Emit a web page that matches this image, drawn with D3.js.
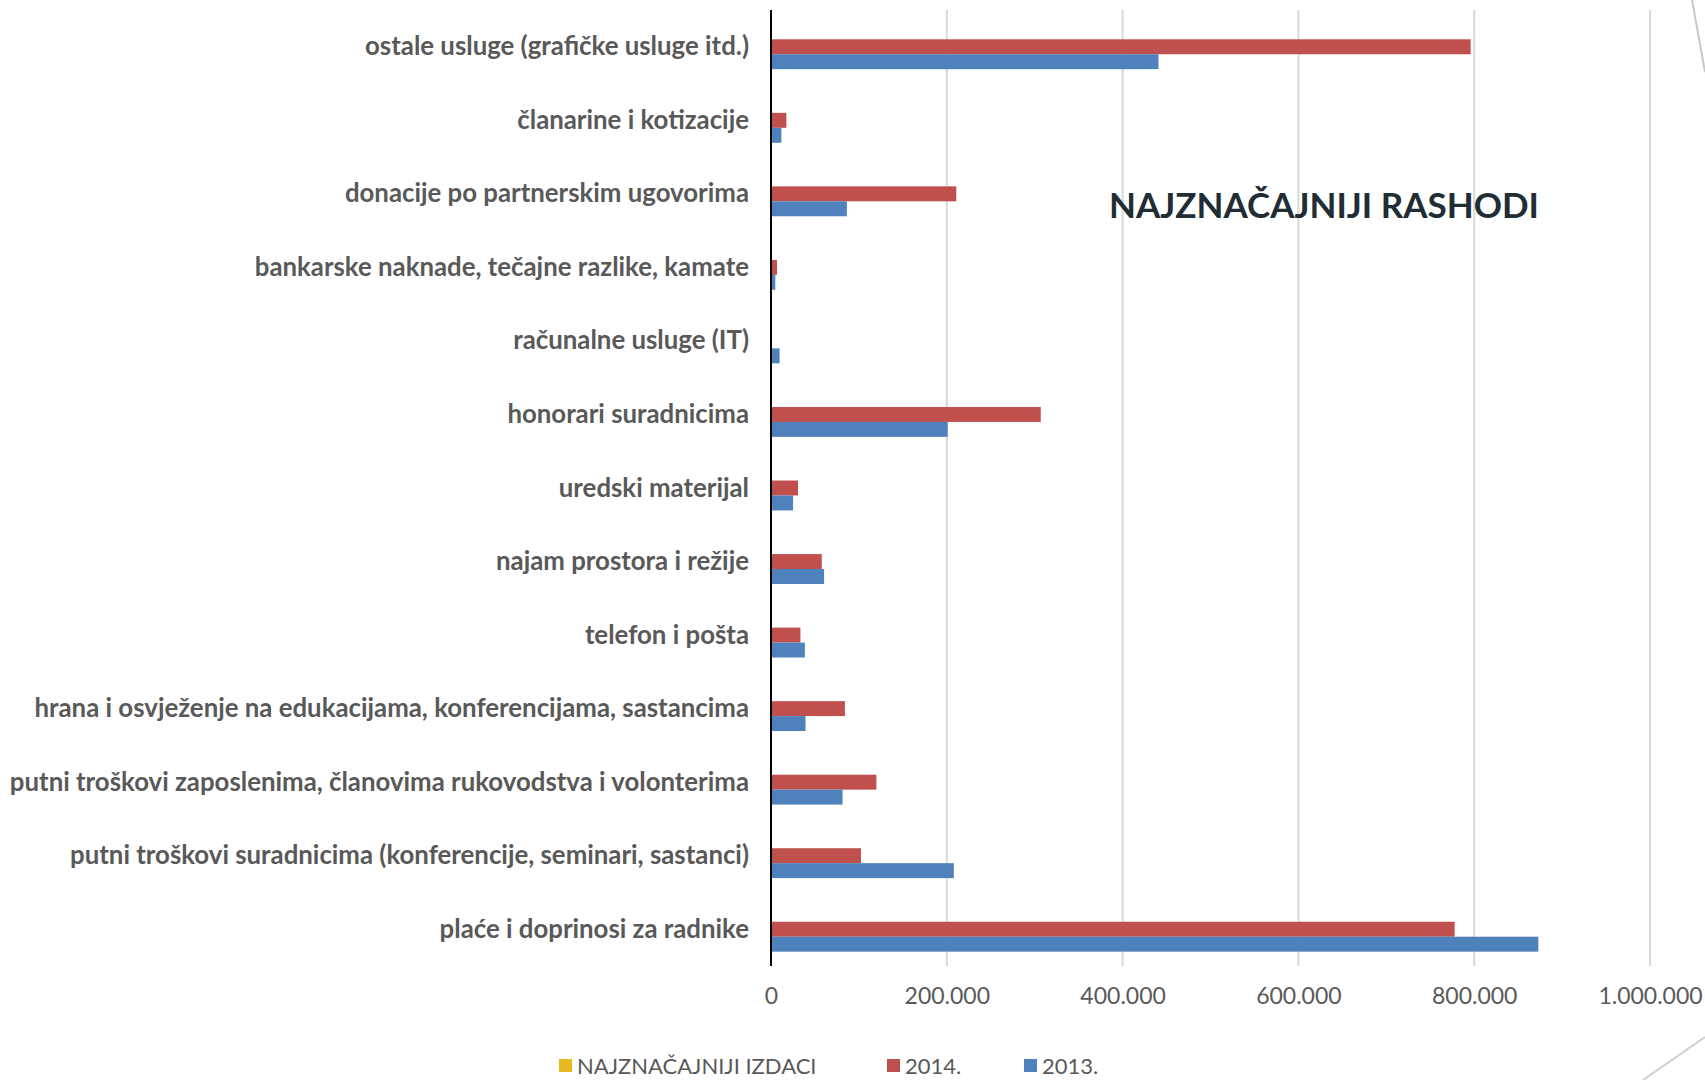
<!DOCTYPE html>
<html>
<head>
<meta charset="utf-8">
<script src="https://cdn.jsdelivr.net/npm/d3@7"></script>
<style>
  html, body { margin: 0; padding: 0; background: #fff; }
  svg { display: block; }
</style>
</head>
<body>
<svg id="chart" width="1705" height="1080"></svg>
<script>
// Categories, top to bottom as shown
var categories = [
  "ostale usluge (grafičke usluge itd.)",
  "članarine i kotizacije",
  "donacije po partnerskim ugovorima",
  "bankarske naknade, tečajne razlike, kamate",
  "računalne usluge (IT)",
  "honorari suradnicima",
  "uredski materijal",
  "najam prostora i režije",
  "telefon i pošta",
  "hrana i osvježenje na edukacijama, konferencijama, sastancima",
  "putni troškovi zaposlenima, članovima rukovodstva i volonterima",
  "putni troškovi suradnicima (konferencije, seminari, sastanci)",
  "plaće i doprinosi za radnike"
];
// Series names (legend order) and values
var seriesNames = ["NAJZNAČAJNIJI IZDACI", "2014.", "2013."];
var valuesIzdaci = [null, null, null, null, null, null, null, null, null, null, null, null, null];
var values2014 = [796000, 17500, 210800, 6800, 0, 306900, 30800, 57800, 33500, 84100, 119900, 102400, 777800];
var values2013 = [440800, 11800, 86300, 4900, 9800, 201000, 25100, 60400, 38500, 39300, 81400, 208000, 873000];
var tickValues = [0, 200000, 400000, 600000, 800000, 1000000];
var chartTitle = "NAJZNAČAJNIJI RASHODI";

var colors = ["#E6B91E", "#C0504D", "#4F81BD"];
var textGray = "#595959";

var svg = d3.select("#chart");

// plot area
var plotLeft = 771, plotRight = 1650, plotTop = 10, plotBottom = 966;

var x = d3.scaleLinear().domain([0, 1000000]).range([plotLeft, plotRight]);
var y = d3.scaleBand().domain(categories).range([plotTop, plotBottom])
  .paddingInner(0.39).paddingOuter(0.195);
var ySeries = d3.scaleBand().domain(seriesNames).range([0, y.bandwidth()]);

var allSeries = [valuesIzdaci, values2014, values2013];

// gridlines
svg.append("g").selectAll("line")
  .data(tickValues.filter(d => d > 0))
  .enter().append("line")
  .attr("x1", d => x(d)).attr("x2", d => x(d))
  .attr("y1", plotTop).attr("y2", plotBottom)
  .style("stroke", "#d9d9d9")
  .style("stroke-width", 2);

// bars
var rows = [];
categories.forEach((c, i) => {
  allSeries.forEach((vals, s) => {
    if (vals[i] != null && vals[i] > 0) rows.push({cat: c, s: s, value: vals[i]});
  });
});

svg.append("g").selectAll("rect")
  .data(rows)
  .enter().append("rect")
  .attr("x", x(0))
  .attr("y", d => y(d.cat) + ySeries(seriesNames[d.s]))
  .attr("width", d => x(d.value) - x(0))
  .attr("height", ySeries.bandwidth())
  .style("fill", d => colors[d.s]);

// vertical axis line
svg.append("line")
  .attr("x1", x(0)).attr("x2", x(0))
  .attr("y1", plotTop).attr("y2", plotBottom)
  .style("stroke", "#000")
  .style("stroke-width", 2);

// category labels
svg.append("g").selectAll("text")
  .data(categories)
  .enter().append("text")
  .attr("x", x(0) - 22)
  .attr("y", d => y(d) + y.bandwidth() / 2 + 8.5)
  .attr("text-anchor", "end")
  .style("font-family", "Lato, 'Open Sans', sans-serif")
  .style("font-weight", 700)
  .style("font-size", "25.8px")
  .style("fill", textGray)
  .text(d => d);

// x axis tick labels
var loc = d3.formatLocale({decimal: ",", thousands: ".", grouping: [3], currency: ["", ""]});
var xAxis = d3.axisBottom(x)
  .tickValues(tickValues)
  .tickFormat(loc.format(",.0f"))
  .tickSize(0)
  .tickPadding(0);

var gx = svg.append("g")
  .attr("transform", "translate(0," + (plotBottom + 22) + ")")
  .call(xAxis);
gx.select(".domain").remove();
gx.selectAll("text")
  .attr("dy", "0.71em")
  .style("font-family", "Lato, 'Open Sans', sans-serif")
  .style("font-size", "23px")
  .style("fill", textGray);

// title
svg.append("text")
  .attr("x", 1324)
  .attr("y", 218)
  .attr("text-anchor", "middle")
  .style("font-family", "Lato, 'Open Sans', sans-serif")
  .style("font-weight", 700)
  .style("font-size", "35px")
  .style("fill", "#212d35")
  .text(chartTitle);

// legend
var legendX = [559, 887, 1024];
var legend = svg.append("g").selectAll("g")
  .data(seriesNames)
  .enter().append("g")
  .attr("transform", (d, i) => "translate(" + legendX[i] + ",0)");
legend.append("rect")
  .attr("x", 0).attr("y", 1059)
  .attr("width", 13).attr("height", 13)
  .style("fill", (d, i) => colors[i]);
legend.append("text")
  .attr("x", 18).attr("y", 1074)
  .style("font-family", "Lato, 'Open Sans', sans-serif")
  .style("font-size", "22px")
  .style("fill", textGray)
  .text(d => d);

// slide decoration lines
svg.append("line")
  .attr("x1", 1692).attr("y1", 0).attr("x2", 1705).attr("y2", 72)
  .style("stroke", "#c8c8c8").style("stroke-width", 2);
svg.append("line")
  .attr("x1", 1643).attr("y1", 1080).attr("x2", 1705).attr("y2", 1037)
  .style("stroke", "#d0d0d0").style("stroke-width", 2);
</script>
</body>
</html>
